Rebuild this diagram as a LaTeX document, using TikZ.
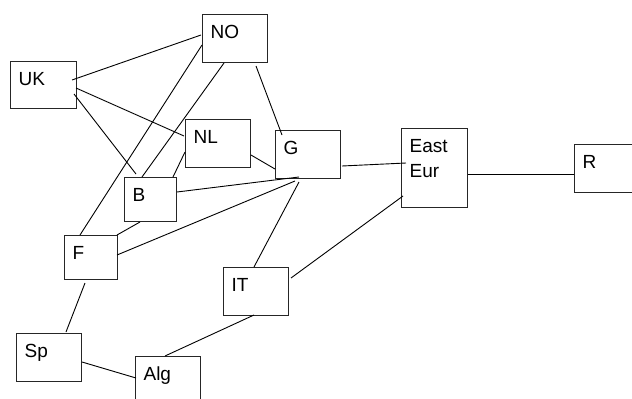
\documentclass[tikz,border=0pt]{standalone}
\usepackage{fontspec}
\setmainfont{Liberation Sans}
\begin{document}
\begin{tikzpicture}[x=1pt,y=-1pt,
  box/.style n args={2}{draw=black!85, line width=1.2pt, anchor=north west,
    inner xsep=8pt, inner ysep=0pt, align=left,
    text width={#1-16pt}, text height=24pt, text depth={#2-24pt},
    font=\fontsize{19}{25}\selectfont},
  link/.style={draw=black, line width=0.9pt}]
\useasboundingbox (0,0) rectangle (632,399);
\clip (0,0) rectangle (632,399);
\node[box={65pt}{48pt}] (NO) at (202,14) {NO};
\node[box={66pt}{47pt}] (UK) at (10,61) {UK};
\node[box={65pt}{48pt}] (NL) at (185,119) {NL};
\node[box={65pt}{48pt}] (G) at (275,130) {G};
\node[box={52pt}{44pt}] (B) at (124,177) {B};
\node[box={53pt}{44pt}] (F) at (64,235) {F};
\node[box={65pt}{48pt}] (IT) at (223,267) {IT};
\node[box={65pt}{48pt}] (Sp) at (16,333) {Sp};
\node[box={65pt}{48pt}] (Alg) at (135,356) {Alg};
\node[box={66pt}{79pt}] (EE) at (401,128) {East\\Eur};
\node[box={66pt}{48pt}] (R) at (574,144) {R};
\path[link] ([shift={(62,19)}]UK.north west) -- ([shift={(-1,21)}]NO.north west);
\path[link] ([shift={(66,27)}]UK.north west) -- ([shift={(-1,17)}]NL.north west);
\path[link] ([shift={(64,33)}]UK.north west) -- ([shift={(12,-3)}]B.north west);
\path[link] ([shift={(0,31)}]NO.north west) -- ([shift={(16,0)}]F.north west);
\path[link] ([shift={(22,49)}]NO.north west) -- ([shift={(18,0)}]B.north west);
\path[link] ([shift={(54,52)}]NO.north west) -- ([shift={(7,5)}]G.north west);
\path[link] ([shift={(0,33)}]NL.north west) -- ([shift={(49,0)}]B.north west);
\path[link] ([shift={(66,36)}]NL.north west) -- ([shift={(0,39)}]G.north west);
\path[link] ([shift={(53,15)}]B.north west) -- ([shift={(24,47)}]G.north west);
\path[link] ([shift={(53,20)}]F.north west) -- ([shift={(20,51)}]G.north west);
\path[link] ([shift={(31,0)}]IT.north west) -- ([shift={(24,52)}]G.north west);
\path[link] ([shift={(67,36)}]G.north west) -- ([shift={(5,35)}]EE.north west);
\path[link] ([shift={(16,45)}]B.north west) -- ([shift={(53,0)}]F.north west);
\path[link] ([shift={(21,48)}]F.north west) -- ([shift={(50,-1)}]Sp.north west);
\path[link] ([shift={(66,29)}]Sp.north west) -- ([shift={(1,22)}]Alg.north west);
\path[link] ([shift={(31,48)}]IT.north west) -- ([shift={(30,0)}]Alg.north west);
\path[link] ([shift={(68,11)}]IT.north west) -- ([shift={(2,68)}]EE.north west);
\path[link] ([shift={(67,46)}]EE.north west) -- ([shift={(0,30)}]R.north west);
\end{tikzpicture}
\end{document}
